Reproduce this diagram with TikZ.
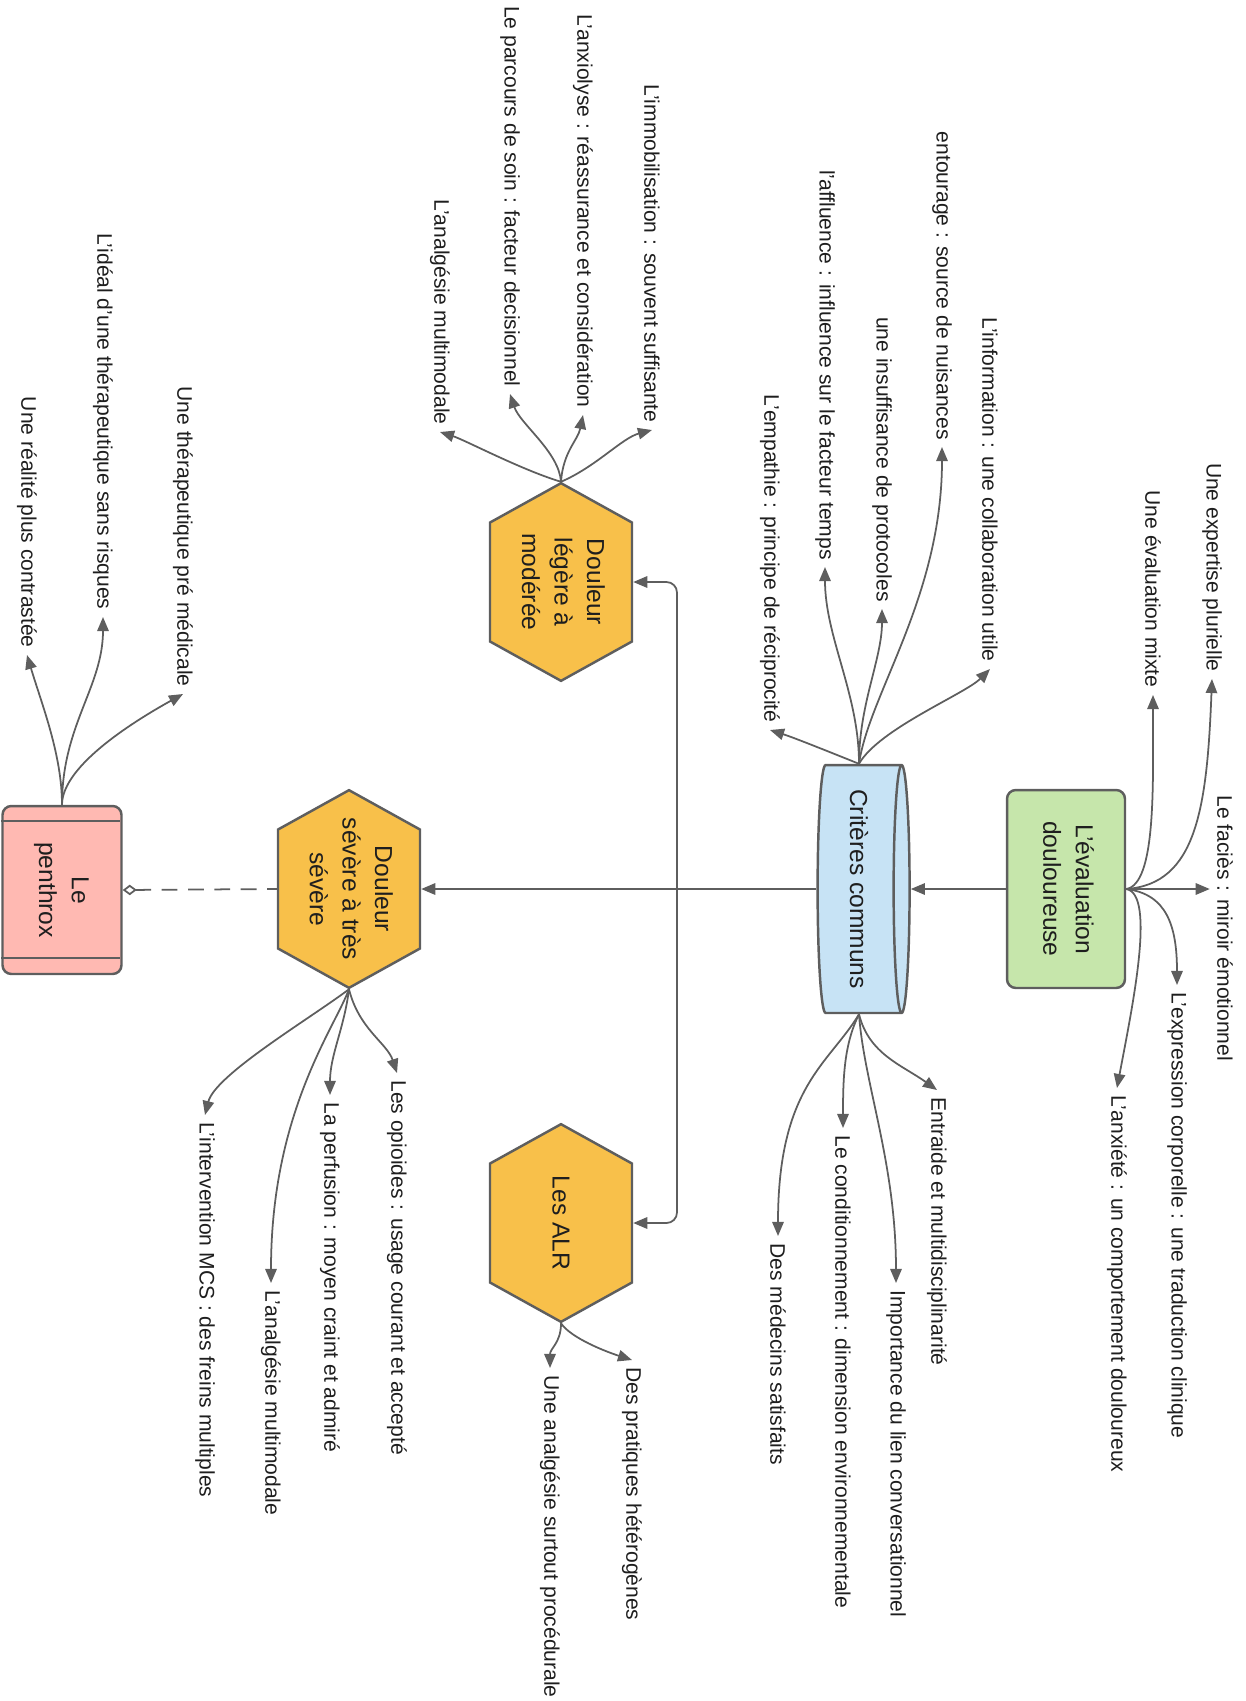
\documentclass[tikz,border=0pt]{standalone}
\usepackage{fontspec}
\setmainfont{Liberation Sans}
\usepackage{graphicx}
\usetikzlibrary{arrows.meta,shapes.geometric,shapes.symbols}

\definecolor{trait}{HTML}{5E5E5E}
\definecolor{vertbox}{HTML}{C6E6AB}
\definecolor{bleucyl}{HTML}{C7E3F5}
\definecolor{orangehex}{HTML}{F8C04A}
\definecolor{rosebox}{HTML}{FFB9B2}
\definecolor{texte}{HTML}{1E1E1E}

\newcommand{\rot}[1]{\rotatebox{-90}{#1}}
\newcommand{\rotl}[1]{\rotatebox{-90}{\begin{tabular}{@{}c@{}}#1\end{tabular}}}

\tikzset{
  fleche/.style={draw=trait, line width=1pt, -{Triangle[length=8pt,width=6.5pt]}},
  etiq/.style={inner sep=4pt, text=texte, font=\fontsize{12}{14}\selectfont},
  boite/.style={draw=trait, line width=1.4pt, text=texte, font=\fontsize{14}{18.5}\selectfont, align=center},
  hextxt/.style={text=texte, font=\fontsize{14}{18.5}\selectfont},
  hexa/.style={boite, signal, signal to=north and south, signal pointer angle=122,
    fill=orangehex, minimum width=2.84cm, minimum height=2.38cm, inner sep=0pt},
}

\begin{document}
\begin{tikzpicture}[x=0.02cm, y=-0.02cm]
\useasboundingbox (0,0) rectangle (1245,1701);

% noeuds principaux
\node[boite, rounded corners=5pt, fill=vertbox, minimum width=2.36cm, minimum height=3.96cm] (eval) at (1066,889) {\rotl{L’évaluation\\douloureuse}};
\node[boite, cylinder, shape border rotate=0, shape aspect=0.08, cylinder uses custom fill,
  cylinder body fill=bleucyl, cylinder end fill=bleucyl, minimum width=4.96cm, minimum height=1.84cm, inner sep=0pt] (crit) at (859,889) {\rot{Critères communs}};
\node[hexa, label={[hextxt]center:\rotl{Douleur\\légère à\\modérée}}] (leg) at (561,582) {};
\node[hexa, label={[hextxt]center:\rot{Les ALR}}] (alr) at (561,1223) {};
\node[hexa, label={[hextxt]center:\rotl{Douleur\\sévère à très\\sévère}}] (sev) at (349,889) {};
\node[boite, rounded corners=5pt, fill=rosebox, minimum width=2.38cm, minimum height=3.36cm] (pen) at (62,890) {\rotl{Le\\penthrox}};
\draw[draw=trait, line width=1.4pt] (pen.north west) ++(0,16) -- ++(119,0);
\draw[draw=trait, line width=1.4pt] (pen.south west) ++(0,-17) -- ++(119,0);

% liaisons
\coordinate (jonc) at (677,889);
\draw[fleche] (eval.west) -- (crit.east);
\draw[fleche] (crit.west) -- (sev.east);
\draw[fleche, rounded corners=6pt] (jonc) |- (leg.east);
\draw[fleche, rounded corners=6pt] (jonc) |- (alr.east);
\draw[draw=trait, line width=1pt, dash pattern=on 9pt off 6pt, {Diamond[open,length=8pt,width=6pt]}-] (pen.east) -- (sev.west);

% évaluation douloureuse
\node[etiq, anchor=north] (facies) at (1225,788) {\rot{Le faciès : miroir émotionnel}};
\node[etiq, anchor=south] (expert) at (1212,679) {\rot{Une expertise plurielle}};
\node[etiq, anchor=south] (mixte) at (1153,695) {\rot{Une évaluation mixte}};
\node[etiq, anchor=north] (corpo) at (1177,985) {\rot{L’expression corporelle : une traduction clinique}};
\node[etiq, anchor=north] (anxiete) at (1117,1088) {\rot{L’anxiété : un comportement douloureux}};
\draw[fleche] (eval.east) -- (eval.east -| facies.west);
\draw[fleche] (eval.east) .. controls +(70,-5) and +(-5,130) .. (expert.south);
\draw[fleche] (eval.east) .. controls +(30,-5) and +(0,90) .. (mixte.south);
\draw[fleche] (eval.east) .. controls +(40,5) and +(0,-60) .. (corpo.north);
\draw[fleche] (eval.east) .. controls +(30,5) and +(15,-80) .. (anxiete.north);

% critères communs
\node[etiq, anchor=south] (info) at (990,669) {\rot{L’information : une collaboration utile}};
\node[etiq, anchor=south] (entourage) at (942,447) {\rot{entourage : source de nuisances}};
\node[etiq, anchor=south] (protocoles) at (882,609) {\rot{une insuffisance de protocoles}};
\node[etiq, anchor=south] (affluence) at (825,567) {\rot{l’affluence : influence sur le facteur temps}};
\node[etiq, anchor=south] (empathie) at (770,730) {\rot{L’empathie : principe de réciprocité}};
\node[etiq, anchor=north] (entraide) at (937,1090) {\rot{Entraide et multidisciplinarité}};
\node[etiq, anchor=north] (importance) at (896,1283) {\rot{Importance du lien conversationnel}};
\node[etiq, anchor=north] (condition) at (843,1128) {\rot{Le conditionnement : dimension environnementale}};
\node[etiq, anchor=north] (medecins) at (778,1236) {\rot{Des médecins satisfaits}};
\draw[fleche] (crit.north) .. controls +(20,-35) and +(-25,25) .. (info.south);
\draw[fleche] (crit.north) .. controls +(10,-70) and +(0,150) .. (entourage.south);
\draw[fleche] (crit.north) .. controls +(0,-60) and +(0,50) .. (protocoles.south);
\draw[fleche] (crit.north) .. controls +(0,-70) and +(0,70) .. (affluence.south);
\draw[fleche] (crit.north) .. controls +(-30,-12) and +(25,8) .. (empathie.south);
\draw[fleche] (crit.south) .. controls +(10,40) and +(-35,-25) .. (entraide.north);
\draw[fleche] (crit.south) .. controls +(5,70) and +(0,-120) .. (importance.north);
\draw[fleche] (crit.south) .. controls +(-15,30) and +(0,-50) .. (condition.north);
\draw[fleche] (crit.south) .. controls +(-30,50) and +(0,-150) .. (medecins.north);

% douleur légère à modérée
\node[etiq, anchor=south] (immob) at (652,430) {\rot{L’immobilisation : souvent suffisante}};
\node[etiq, anchor=south] (anxiolyse) at (583,415) {\rot{L’anxiolyse : réassurance et considération}};
\node[etiq, anchor=south] (parcours) at (510,394) {\rot{Le parcours de soin : facteur decisionnel}};
\node[etiq, anchor=south] (analgA) at (440,432) {\rot{L’analgésie multimodale}};
\draw[fleche] (leg.north) .. controls +(35,-15) and +(-30,8) .. (immob.south);
\draw[fleche] (leg.north) .. controls +(2,-30) and +(-5,25) .. (anxiolyse.south);
\draw[fleche] (leg.north) .. controls +(-2,-30) and +(10,30) .. (parcours.south);
\draw[fleche] (leg.north) .. controls +(-40,-12) and +(25,8) .. (analgA.south);

% les ALR
\node[etiq, anchor=north] (pratiques) at (632,1360) {\rot{Des pratiques hétérogènes}};
\node[etiq, anchor=north] (surtout) at (550,1368) {\rot{Une analgésie surtout procédurale}};
\draw[fleche] (alr.south) .. controls +(10,15) and +(-25,-8) .. (pratiques.north);
\draw[fleche] (alr.south) .. controls +(0,20) and +(0,-20) .. (surtout.north);

% douleur sévère à très sévère
\node[etiq, anchor=north] (opioides) at (397,1073) {\rot{Les opioides : usage courant et accepté}};
\node[etiq, anchor=north] (perfusion) at (330,1095) {\rot{La perfusion : moyen craint et admiré}};
\node[etiq, anchor=north] (analgB) at (271,1283) {\rot{L’analgésie multimodale}};
\node[etiq, anchor=north] (mcs) at (205,1115) {\rot{L’intervention MCS : des freins multiples}};
\draw[fleche] (sev.south) .. controls +(10,40) and +(-10,-30) .. (opioides.north);
\draw[fleche] (sev.south) .. controls +(-5,40) and +(0,-40) .. (perfusion.north);
\draw[fleche] (sev.south) .. controls +(-15,40) and +(0,-170) .. (analgB.north);
\draw[fleche] (sev.south) .. controls +(-40,30) and +(10,-40) .. (mcs.north);

% le penthrox
\node[etiq, anchor=south] (premed) at (183,694) {\rot{Une thérapeutique pré médicale}};
\node[etiq, anchor=south] (ideal) at (103,617) {\rot{L’idéal d’une thérapeutique sans risques}};
\node[etiq, anchor=south] (realite) at (27,655) {\rot{Une réalité plus contrastée}};
\draw[fleche] (pen.north) .. controls +(0,-40) and +(-45,25) .. (premed.south);
\draw[fleche] (pen.north) .. controls +(0,-80) and +(0,70) .. (ideal.south);
\draw[fleche] (pen.north) .. controls +(0,-50) and +(15,50) .. (realite.south);

\end{tikzpicture}
\end{document}
